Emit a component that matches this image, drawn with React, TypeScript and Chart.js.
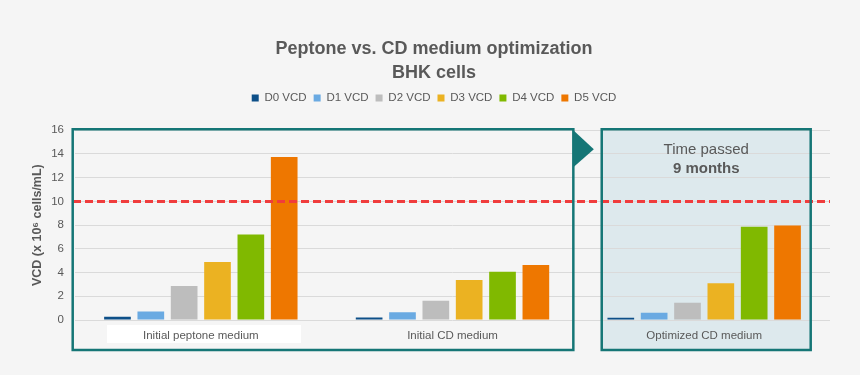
import React, { useEffect, useRef } from "react";
import { Chart, registerables, layouts } from "chart.js";

Chart.register(...registerables);

const CATEGORIES = ["Initial peptone medium", "Initial CD medium", "Optimized CD medium"];
const SERIES_LABELS = ["D0 VCD", "D1 VCD", "D2 VCD", "D3 VCD", "D4 VCD", "D5 VCD"];
const D0 = [0.28, 0.22, 0.2];
const D1 = [0.72, 0.65, 0.62];
const D2 = [2.86, 1.63, 1.46];
const D3 = [4.9, 3.37, 3.09];
const D4 = [7.2, 4.07, 7.86];
const D5 = [13.75, 4.63, 7.97];
const SERIES = [D0, D1, D2, D3, D4, D5];
const COLORS = ["#0d4f88", "#6aaae2", "#bdbdbd", "#ebb222", "#80b900", "#ee7700"];
const THRESHOLD = 10;
const Y_MIN = 0;
const Y_MAX = 16;
const Y_STEP = 2;
const TITLE_LINES = ["Peptone vs. CD medium optimization", "BHK cells"];
const Y_TITLE = "VCD (x 10\u2076 cells/mL)";
const NOTE_LINE1 = "Time passed";
const NOTE_LINE2 = "9 months";

const FONT = "'Liberation Sans', Arial, sans-serif";
const TEXT = "#595959";
const TEAL = "#157676";

const spacerPlugin = {
  id: "spacer",
  beforeInit(chart: any) {
    const box: any = {
      position: "top",
      weight: 0,
      fullSize: true,
      options: {},
      left: 0,
      top: 0,
      right: 0,
      bottom: 0,
      width: 0,
      height: 0,
      update(maxWidth: number) {
        this.width = maxWidth;
        this.height = 16.5;
      },
      draw() {},
      isHorizontal() {
        return true;
      },
    };
    layouts.addBox(chart, box);
  },
};

const decorPlugin = {
  id: "decor",
  beforeDraw(chart: any) {
    const { ctx, chartArea, width, height } = chart;
    const catW = (chartArea.right - chartArea.left) / CATEGORIES.length;
    ctx.save();
    ctx.fillStyle = "#f5f5f5";
    ctx.fillRect(0, 0, width, height);
    const b2l = chartArea.left + 2 * catW + 23.4;
    const b2r = chartArea.right - 19.3;
    ctx.fillStyle = "#dde9ed";
    ctx.fillRect(b2l, chartArea.top - 1, b2r - b2l, chartArea.bottom + 30 - (chartArea.top - 1));
    ctx.fillStyle = "#ffffff";
    ctx.fillRect(chartArea.left + 32, chartArea.bottom + 5, 194, 18);
    ctx.restore();
  },
  afterDatasetsDraw(chart: any) {
    const { ctx, chartArea, scales } = chart;
    const catW = (chartArea.right - chartArea.left) / CATEGORIES.length;
    const top = chartArea.top - 1;
    const bottom = chartArea.bottom + 30;
    ctx.save();
    const yT = scales.y.getPixelForValue(THRESHOLD);
    ctx.strokeStyle = "#f03c3c";
    ctx.lineWidth = 3;
    ctx.setLineDash([8, 4]);
    ctx.beginPath();
    ctx.moveTo(chartArea.left - 2, yT);
    ctx.lineTo(chartArea.right, yT);
    ctx.stroke();
    ctx.setLineDash([]);
    ctx.strokeStyle = TEAL;
    ctx.lineWidth = 2.5;
    const b1l = chartArea.left - 2.3;
    const b1r = chartArea.left + 2 * catW - 5;
    ctx.strokeRect(b1l, top, b1r - b1l, bottom - top);
    const b2l = chartArea.left + 2 * catW + 23.4;
    const b2r = chartArea.right - 19.3;
    ctx.strokeRect(b2l, top, b2r - b2l, bottom - top);
    ctx.fillStyle = TEAL;
    ctx.beginPath();
    ctx.moveTo(b1r, top + 1);
    ctx.lineTo(b1r + 20.5, top + 20);
    ctx.lineTo(b1r, top + 38);
    ctx.closePath();
    ctx.fill();
    const cx = (b2l + b2r) / 2;
    ctx.fillStyle = TEXT;
    ctx.textAlign = "center";
    ctx.textBaseline = "middle";
    ctx.font = `15px ${FONT}`;
    ctx.fillText(NOTE_LINE1, cx, top + 21);
    ctx.font = `bold 15px ${FONT}`;
    ctx.fillText(NOTE_LINE2, cx, top + 39.5);
    ctx.restore();
  },
};

export default function App() {
  const ref = useRef<HTMLCanvasElement | null>(null);
  useEffect(() => {
    if (!ref.current) return;
    const chart = new Chart(ref.current, {
      type: "bar",
      data: {
        labels: CATEGORIES,
        datasets: SERIES.map((d, i) => ({
          label: SERIES_LABELS[i],
          data: d,
          backgroundColor: COLORS[i],
          borderWidth: 0,
          categoryPercentage: 0.795,
          barPercentage: 0.8,
        })),
      },
      options: {
        responsive: false,
        animation: false,
        devicePixelRatio: 1,
        layout: { padding: { top: 0, left: 38, right: 30, bottom: 0 } },
        plugins: {
          tooltip: { enabled: false },
          title: {
            display: true,
            text: TITLE_LINES,
            color: TEXT,
            font: { family: FONT, size: 18, weight: "bold", lineHeight: 24 / 18 },
            padding: { top: 37, bottom: 0.25 },
          },
          legend: {
            display: true,
            position: "top",
            labels: {
              boxWidth: 7,
              boxHeight: 7,
              color: TEXT,
              font: { family: FONT, size: 11.5 },
              padding: 7,
            },
          },
        },
        scales: {
          x: {
            grid: { display: false, drawTicks: false },
            border: { display: false },
            ticks: { color: TEXT, font: { family: FONT, size: 11.5 }, padding: 9 },
            afterFit(scale: any) {
              scale.height = 55;
            },
          },
          y: {
            min: Y_MIN,
            max: Y_MAX,
            grid: { color: "#dadada", lineWidth: 1, drawTicks: false },
            border: { display: false },
            ticks: { stepSize: Y_STEP, color: TEXT, font: { family: FONT, size: 11.5 }, padding: 11 },
            title: {
              display: true,
              text: Y_TITLE,
              color: TEXT,
              font: { family: FONT, size: 12.5, weight: "bold" },
              padding: { top: -8, bottom: 0 },
            },
            afterFit(scale: any) {
              scale.width = 37;
            },
          },
        },
      },
      plugins: [spacerPlugin, decorPlugin],
    } as any);
    return () => chart.destroy();
  }, []);
  return (
    <div style={{ position: "absolute", left: 0, top: 0, width: 860, height: 375 }}>
      <canvas ref={ref} width={860} height={375} />
    </div>
  );
}
